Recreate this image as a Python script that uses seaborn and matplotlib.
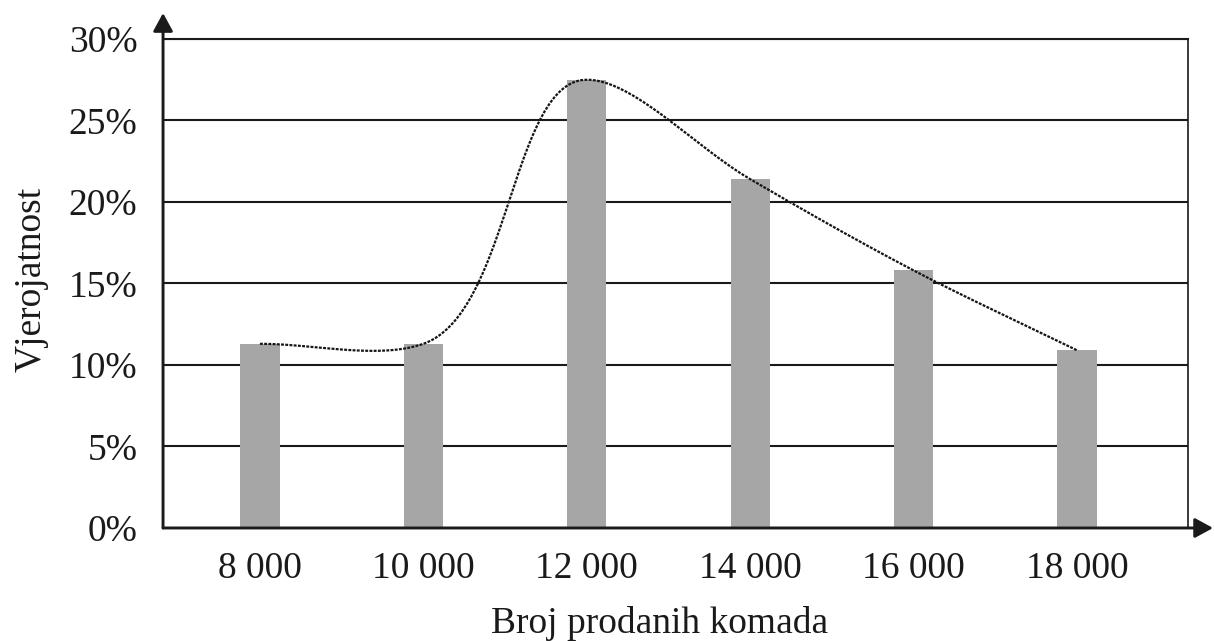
import numpy as np
import matplotlib
matplotlib.use('Agg')
import matplotlib.pyplot as plt
import seaborn as sns
import pandas as pd

# values
komada = ['8 000', '10 000', '12 000', '14 000', '16 000', '18 000']
vjerojatnost = [11.3, 11.3, 27.5, 21.4, 15.8, 10.9]  # percent
y_ticks = [0, 5, 10, 15, 20, 25, 30]
y_tick_labels = ['0%', '5%', '10%', '15%', '20%', '25%', '30%']

data = pd.DataFrame({'komada': komada, 'vjerojatnost': vjerojatnost})


def smooth_curve(x, y, n=80, alpha=1.0):
    # chordal Catmull-Rom through the bar tops (x scaled so units look like screen units)
    pts = np.column_stack([np.asarray(x, float) * 10, np.asarray(y, float)])
    pts = np.vstack([2 * pts[0] - pts[1], pts, 2 * pts[-1] - pts[-2]])
    out = []
    for i in range(1, len(pts) - 2):
        p0, p1, p2, p3 = pts[i - 1], pts[i], pts[i + 1], pts[i + 2]
        t0 = 0.0
        t1 = t0 + np.linalg.norm(p1 - p0) ** alpha
        t2 = t1 + np.linalg.norm(p2 - p1) ** alpha
        t3 = t2 + np.linalg.norm(p3 - p2) ** alpha
        t = np.linspace(t1, t2, n)[:, None]
        a1 = (t1 - t) / (t1 - t0) * p0 + (t - t0) / (t1 - t0) * p1
        a2 = (t2 - t) / (t2 - t1) * p1 + (t - t1) / (t2 - t1) * p2
        a3 = (t3 - t) / (t3 - t2) * p2 + (t - t2) / (t3 - t2) * p3
        b1 = (t2 - t) / (t2 - t0) * a1 + (t - t0) / (t2 - t0) * a2
        b2 = (t3 - t) / (t3 - t1) * a2 + (t - t1) / (t3 - t1) * a3
        out.append((t2 - t) / (t2 - t1) * b1 + (t - t1) / (t2 - t1) * b2)
    out = np.vstack(out)
    return out[:, 0] / 10, out[:, 1]


sns.set_style('white')
plt.rcParams['font.family'] = ['Liberation Serif', 'DejaVu Serif']
dark = '#1a1a1a'

fig = plt.figure(figsize=(12.14, 6.41), dpi=100)
ax = fig.add_axes([0.1343, 0.1763, 0.8443, 0.7629])

# bars
sns.barplot(data=data, x='komada', y='vjerojatnost', color='#a6a6a6',
            saturation=1, width=0.24, linewidth=0, ax=ax)

# dotted smoothed line through the bar tops
cx, cy = smooth_curve(range(len(komada)), vjerojatnost)
ax.plot(cx, cy, color='#151515', lw=1.6, ls=(0, (1.3, 0.6)), zorder=4)

ax.set_xlim(-0.593, 5.679)
ax.set_ylim(0, 30)
ax.set_yticks(y_ticks)
ax.set_yticklabels(y_tick_labels)

# grid and frame
ax.set_axisbelow(True)
ax.yaxis.grid(True, color=dark, lw=1.5)
ax.xaxis.grid(False)
ax.spines['left'].set_visible(False)
ax.spines['bottom'].set_visible(False)
ax.spines['top'].set_color(dark)
ax.spines['top'].set_linewidth(1.5)
ax.spines['right'].set_color(dark)
ax.spines['right'].set_linewidth(1.2)

# axes with arrow heads
arrow = dict(arrowstyle='-|>,head_length=0.55,head_width=0.3', mutation_scale=20,
             lw=2.1, color=dark, shrinkA=0, shrinkB=0)
ax.annotate('', xy=(0, 1.053), xytext=(0, 0), xycoords='axes fraction',
            arrowprops=arrow, annotation_clip=False)
ax.annotate('', xy=(1.0244, 0), xytext=(0, 0), xycoords='axes fraction',
            arrowprops=arrow, annotation_clip=False)

# ticks and labels
ax.tick_params(axis='both', length=0, labelsize=27, colors=dark)
ax.tick_params(axis='x', pad=16.6)
ax.tick_params(axis='y', pad=18.5)

ax.set_xlabel('Broj prodanih komada', fontsize=27, color=dark)
ax.xaxis.set_label_coords(0.484, -0.214)
ax.xaxis.label.set_va('baseline')
ax.set_ylabel('Vjerojatnost', fontsize=27, color=dark)
ax.yaxis.set_label_coords(-0.119, 0.509)
ax.yaxis.label.set_va('baseline')

fig.savefig('out.png', dpi=100)
